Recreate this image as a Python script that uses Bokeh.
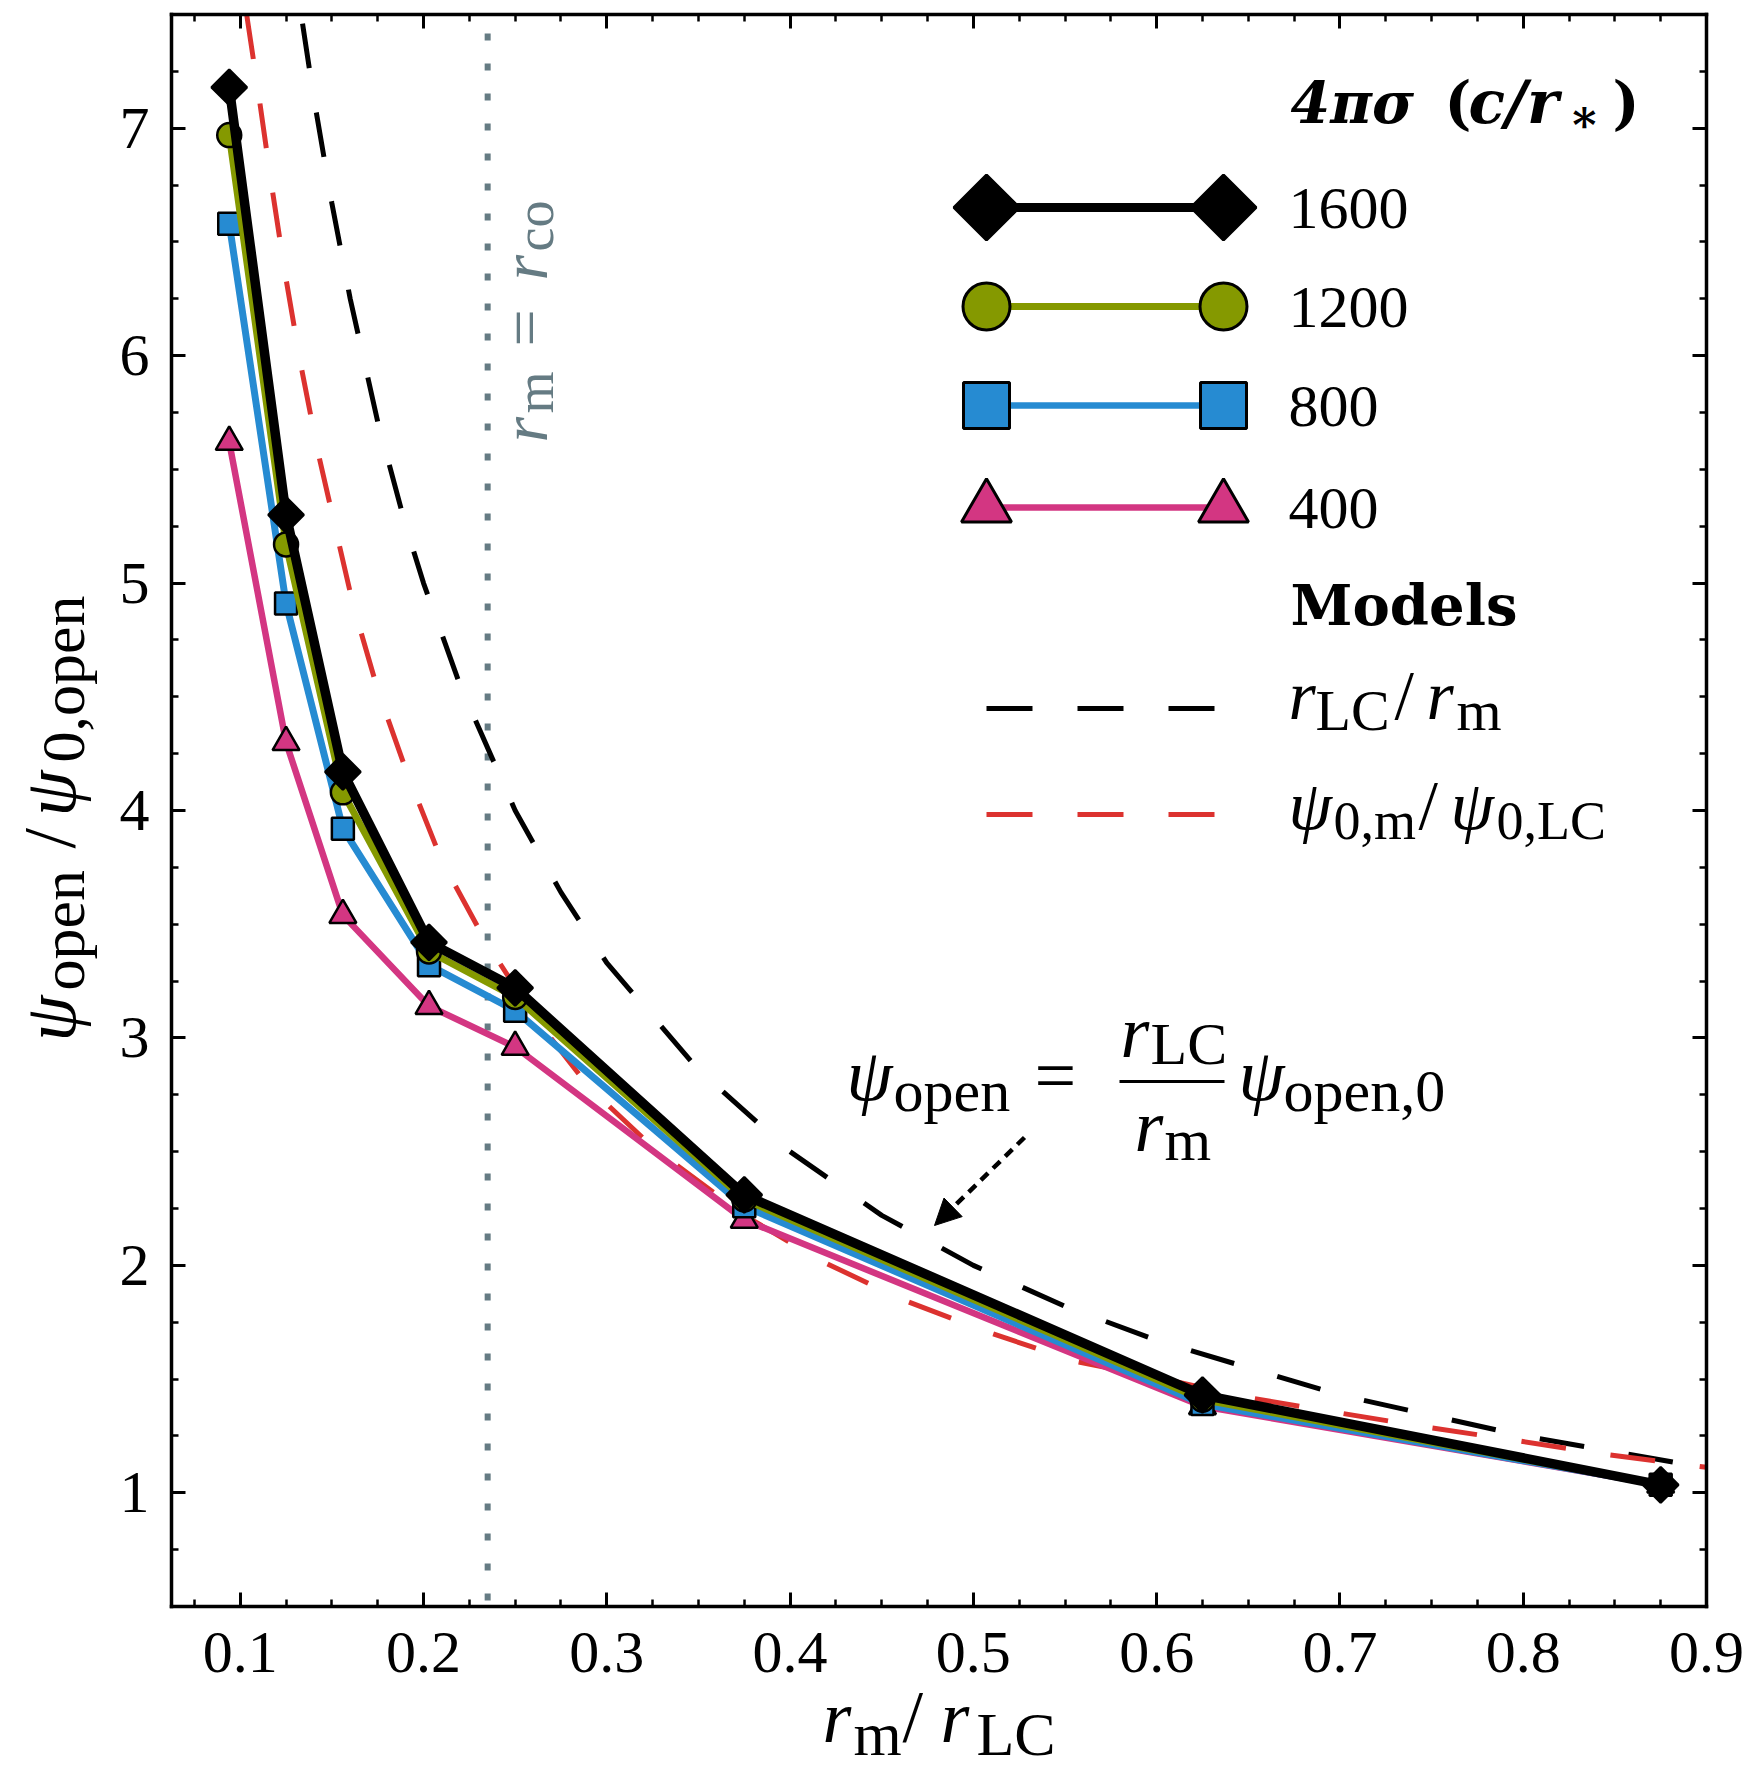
import numpy as np
from bokeh.plotting import figure
from bokeh.models import Range1d, LinearAxis, FixedTicker, Label, Arrow, NormalHead
from bokeh.embed import file_html
from bokeh.resources import INLINE

# ---------------- data ----------------
r_m_over_r_lc = [0.094, 0.125, 0.156, 0.203, 0.25, 0.375, 0.625, 0.875]
sigma_labels = ["1600", "1200", "800", "400"]
psi_1600 = [7.18, 5.30, 4.17, 3.42, 3.22, 2.31, 1.43, 1.035]
psi_1200 = [6.97, 5.17, 4.08, 3.38, 3.18, 2.29, 1.41, 1.035]
psi_800 = [6.58, 4.91, 3.92, 3.32, 3.12, 2.26, 1.39, 1.035]
psi_400 = [5.62, 4.30, 3.54, 3.14, 2.96, 2.20, 1.38, 1.035]

# model r_LC / r_m (black dashed)
model_rlc_x = [0.134, 0.14, 0.15, 0.16, 0.175, 0.19, 0.2, 0.22, 0.25, 0.275, 0.3,
               0.35, 0.4, 0.45, 0.5, 0.55, 0.6, 0.7, 0.8, 0.9]
model_rlc_y = [7.46, 7.14, 6.67, 6.25, 5.71, 5.26, 5.0, 4.55, 4.0, 3.64, 3.33,
               2.86, 2.5, 2.22, 2.0, 1.82, 1.67, 1.43, 1.25, 1.11]
# model psi_0,m / psi_0,LC (red dashed)
model_psi0_x = [0.1035, 0.1102, 0.1171, 0.1245, 0.1328, 0.1423, 0.1534, 0.1617, 0.1754,
                0.1917, 0.2099, 0.2335, 0.2607, 0.2907, 0.325, 0.375, 0.4169, 0.461,
                0.5068, 0.5545, 0.604, 0.6488, 0.6929, 0.746, 0.7963, 0.844, 0.8877, 0.9]
model_psi0_y = [7.50, 7.14, 6.75, 6.36, 5.97, 5.58, 5.19, 4.90, 4.52,
                4.15, 3.78, 3.43, 3.09, 2.78, 2.52, 2.22, 2.02, 1.85,
                1.71, 1.58, 1.50, 1.42, 1.36, 1.29, 1.23, 1.17, 1.124, 1.112]
r_co = 0.235

x_lim = (0.0625, 0.9)
y_lim = (0.5, 7.5)
x_ticks = [0.1, 0.2, 0.3, 0.4, 0.5, 0.6, 0.7, 0.8, 0.9]
x_minor = [0.075, 0.1, 0.125, 0.15, 0.175, 0.2, 0.225, 0.25, 0.275, 0.3, 0.325, 0.35,
           0.375, 0.4, 0.425, 0.45, 0.475, 0.5, 0.525, 0.55, 0.575, 0.6, 0.625, 0.65,
           0.675, 0.7, 0.725, 0.75, 0.775, 0.8, 0.825, 0.85, 0.875, 0.9]
y_ticks = [1, 2, 3, 4, 5, 6, 7]
y_minor = [0.5, 0.75, 1, 1.25, 1.5, 1.75, 2, 2.25, 2.5, 2.75, 3, 3.25, 3.5, 3.75, 4,
           4.25, 4.5, 4.75, 5, 5.25, 5.5, 5.75, 6, 6.25, 6.5, 6.75, 7, 7.25, 7.5]

# ---------------- styles ----------------
BLACK = "#000000"
OLIVE = "#859900"
BLUE = "#268bd2"
PINK = "#d33682"
RED = "#dc322f"
GRAY = "#657b83"
SERIF = "Liberation Serif"
BOLDF = "DejaVu Serif"

W, H = 1757, 1772
# pixel box of the axes inside the page
FL, FR, FT, FB = 171, 1706, 14, 1606
X0, X1 = x_lim
Y0, Y1 = y_lim


def dx(px):
    return X0 + (px - FL) / (FR - FL) * (X1 - X0)


def dy(py):
    return Y1 - (py - FT) / (FB - FT) * (Y1 - Y0)


# the frame covers the whole page; the axes are drawn at fixed locations
p = figure(width=W, height=H, x_range=Range1d(dx(0), dx(W)), y_range=Range1d(dy(H), dy(0)),
           output_backend="svg", toolbar_location=None, min_border=0,
           x_axis_type=None, y_axis_type=None)
p.background_fill_color = "white"
p.border_fill_color = "white"
p.outline_line_color = None


def make_axis(ticks, minor, loc, bounds, labels=True):
    ax = LinearAxis(ticker=FixedTicker(ticks=ticks, minor_ticks=minor),
                    fixed_location=loc, bounds=bounds)
    ax.axis_line_width = 3.5
    ax.axis_line_cap = "square"
    ax.major_tick_in = 14
    ax.major_tick_out = 0
    ax.minor_tick_in = 7
    ax.minor_tick_out = 0
    ax.major_tick_line_width = 3
    ax.minor_tick_line_width = 2.5
    if labels:
        ax.major_label_text_font = SERIF
        ax.major_label_text_font_size = "60px"
        ax.major_label_text_color = "black"
    else:
        ax.major_label_text_color = None
    return ax


bx = make_axis(x_ticks, x_minor, Y0, x_lim)
bx.major_label_standoff = 26
p.add_layout(bx, "below")
ly = make_axis(y_ticks, y_minor, X0, y_lim)
ly.major_label_standoff = 22
p.add_layout(ly, "left")
p.add_layout(make_axis(x_ticks, x_minor, Y1, x_lim, False), "above")
p.add_layout(make_axis(y_ticks, y_minor, X1, y_lim, False), "right")

# vertical corotation line
p.segment(x0=[r_co], y0=[Y0], x1=[r_co], y1=[Y1], line_color=GRAY, line_width=6,
          line_dash="7 23", line_dash_offset=24)

# model curves
p.line(model_rlc_x, model_rlc_y, line_color=BLACK, line_width=5, line_dash="45 45")
p.line(model_psi0_x, model_psi0_y, line_color=RED, line_width=5, line_dash="45 45")

series = [
    (psi_400, PINK, "triangle", 27, 6.5, 0.0),
    (psi_800, BLUE, "square", 22, 7, 0.0),
    (psi_1200, OLIVE, "circle", 24, 7, 0.0),
    (psi_1600, BLACK, "square", 25, 9.5, np.pi / 4),
]
for ys, col, mk, sz, lw, ang in series:
    p.line(r_m_over_r_lc, ys, line_color=col, line_width=lw, line_join="round")
    p.scatter(r_m_over_r_lc, ys, marker=mk, size=sz, angle=ang, fill_color=col,
              line_color="black", line_width=2.5)


def T(x, y, s, size, style="normal", font=SERIF, color="black", angle=0.0):
    """Text whose baseline starts at page pixel (x, y)."""
    k = 0.346 if font == BOLDF else 0.3375
    if angle == 0.0:
        ax_, ay_ = x, y - k * size
    else:
        ax_, ay_ = x - k * size, y
    p.add_layout(Label(x=dx(ax_), y=dy(ay_), text=s, text_font=font,
                       text_font_size=f"{size}px", text_font_style=style,
                       text_color=color, angle=angle, text_align="left",
                       text_baseline="middle"))


# ---------------- legend ----------------
T(1290, 122, "4πσ", 57, "bold italic", BOLDF)
T(1444, 122, "(", 57, "bold", BOLDF)
T(1468, 122, "c/r", 60, "bold italic", BOLDF)
T(1568, 131, "∗", 46, "bold", BOLDF)
T(1612, 122, ")", 57, "bold", BOLDF)

leg_rows = [
    (207, BLACK, "square", 46, 9, np.pi / 4, sigma_labels[0]),
    (306, OLIVE, "circle", 47, 7, 0.0, sigma_labels[1]),
    (405, BLUE, "square", 46, 6.5, 0.0, sigma_labels[2]),
    (507, PINK, "triangle", 50, 6.5, 0.0, sigma_labels[3]),
]
for yy, col, mk, sz, lw, ang, lab in leg_rows:
    xs = [dx(986), dx(1223)]
    p.line(xs, [dy(yy), dy(yy)], line_color=col, line_width=lw)
    p.scatter(xs, [dy(yy), dy(yy)], marker=mk, size=sz, angle=ang, fill_color=col,
              line_color="black", line_width=3)
    T(1288, yy + 21, lab, 60)

T(1290, 624, "Models", 56, "bold", BOLDF)
p.line([dx(986), dx(1216)], [dy(708), dy(708)], line_color=BLACK, line_width=5,
       line_dash="46 45")
p.line([dx(986), dx(1216)], [dy(814), dy(814)], line_color=RED, line_width=5,
       line_dash="46 45")
# r_LC / r_m
T(1288, 719, "r", 70, "italic")
T(1315, 730, "LC", 58)
T(1394, 719, "/", 70)
T(1426, 719, "r", 70, "italic")
T(1456, 730, "m", 58)
# psi_0,m / psi_0,LC
T(1288, 829, "ψ", 70, "italic")
T(1333, 839, "0,m", 54)
T(1418, 829, "/", 70)
T(1450, 829, "ψ", 70, "italic")
T(1496, 839, "0,LC", 54)

# ---------------- formula annotation ----------------
T(846, 1099, "ψ", 74, "italic")
T(893, 1111, "open", 60)
T(1034, 1099, "=", 74)
p.segment(x0=[dx(1119)], y0=[dy(1081)], x1=[dx(1224)], y1=[dy(1081)],
          line_color="black", line_width=3)
T(1120, 1056, "r", 74, "italic")
T(1150, 1064, "LC", 60)
T(1134, 1150, "r", 74, "italic")
T(1164, 1160, "m", 60)
T(1238, 1099, "ψ", 74, "italic")
T(1283, 1111, "open,0", 60)
p.add_layout(Arrow(end=NormalHead(size=26, fill_color="black", line_color="black",
                                  line_width=1),
                   x_start=dx(1024), y_start=dy(1137), x_end=dx(934), y_end=dy(1225),
                   line_width=4.5, line_dash="10 7", line_color="black"))

# ---------------- r_m = r_co label ----------------
A = np.pi / 2
T(546, 442, "r", 66, "italic", color=GRAY, angle=A)
T(553, 413, "m", 54, color=GRAY, angle=A)
T(546, 346, "=", 66, color=GRAY, angle=A)
T(546, 280, "r", 66, "italic", color=GRAY, angle=A)
T(553, 251, "co", 54, color=GRAY, angle=A)

# ---------------- axis labels ----------------
T(822, 1741, "r", 74, "italic")
T(853, 1754, "m", 62)
T(902, 1741, "/", 74)
T(940, 1741, "r", 74, "italic")
T(976, 1754, "LC", 62)

T(74, 1041, "ψ", 74, "italic", angle=A)
T(83, 990, "open", 62, angle=A)
T(74, 848, "/", 74, angle=A)
T(74, 816, "ψ", 74, "italic", angle=A)
T(83, 762, "0,open", 62, angle=A)

open("out.html", "w").write(file_html(p, INLINE))
